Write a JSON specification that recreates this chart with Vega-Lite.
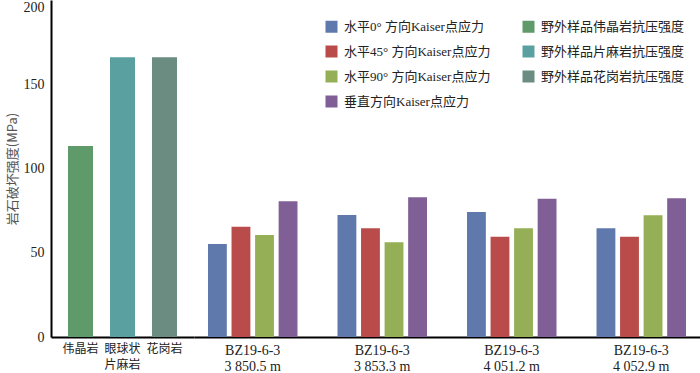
{
  "$schema": "https://vega.github.io/schema/vega-lite/v6.json",
  "padding": {"left": 6, "top": 0, "right": 0, "bottom": 0},
  "background": "white",
  "spacing": 0,
  "config": {
    "view": {"stroke": null},
    "font": "Liberation Serif, Noto Sans CJK SC",
    "concat": {"spacing": 0}
  },
  "datasets": {
    "d": [
      {"category": "伟晶岩", "series": "野外样品伟晶岩抗压强度", "kind": "field", "value": 113.4},
      {"category": "眼球状|片麻岩", "series": "野外样品片麻岩抗压强度", "kind": "field", "value": 166},
      {"category": "花岗岩", "series": "野外样品花岗岩抗压强度", "kind": "field", "value": 166},
      {"category": "BZ19-6-3|3 850.5 m", "series": "水平0° 方向Kaiser点应力", "kind": "kaiser", "value": 55.2},
      {"category": "BZ19-6-3|3 850.5 m", "series": "水平45° 方向Kaiser点应力", "kind": "kaiser", "value": 65.5},
      {"category": "BZ19-6-3|3 850.5 m", "series": "水平90° 方向Kaiser点应力", "kind": "kaiser", "value": 60.5},
      {"category": "BZ19-6-3|3 850.5 m", "series": "垂直方向Kaiser点应力", "kind": "kaiser", "value": 80.5},
      {"category": "BZ19-6-3|3 853.3 m", "series": "水平0° 方向Kaiser点应力", "kind": "kaiser", "value": 72.4},
      {"category": "BZ19-6-3|3 853.3 m", "series": "水平45° 方向Kaiser点应力", "kind": "kaiser", "value": 64.5},
      {"category": "BZ19-6-3|3 853.3 m", "series": "水平90° 方向Kaiser点应力", "kind": "kaiser", "value": 56.2},
      {"category": "BZ19-6-3|3 853.3 m", "series": "垂直方向Kaiser点应力", "kind": "kaiser", "value": 82.9},
      {"category": "BZ19-6-3|4 051.2 m", "series": "水平0° 方向Kaiser点应力", "kind": "kaiser", "value": 74.2},
      {"category": "BZ19-6-3|4 051.2 m", "series": "水平45° 方向Kaiser点应力", "kind": "kaiser", "value": 59.5},
      {"category": "BZ19-6-3|4 051.2 m", "series": "水平90° 方向Kaiser点应力", "kind": "kaiser", "value": 64.5},
      {"category": "BZ19-6-3|4 051.2 m", "series": "垂直方向Kaiser点应力", "kind": "kaiser", "value": 82.1},
      {"category": "BZ19-6-3|4 052.9 m", "series": "水平0° 方向Kaiser点应力", "kind": "kaiser", "value": 64.5},
      {"category": "BZ19-6-3|4 052.9 m", "series": "水平45° 方向Kaiser点应力", "kind": "kaiser", "value": 59.5},
      {"category": "BZ19-6-3|4 052.9 m", "series": "水平90° 方向Kaiser点应力", "kind": "kaiser", "value": 72.2},
      {"category": "BZ19-6-3|4 052.9 m", "series": "垂直方向Kaiser点应力", "kind": "kaiser", "value": 82.3}
    ]
  },
  "resolve": {"scale": {"color": "shared", "y": "independent", "x": "independent", "xOffset": "independent"}, "legend": {"color": "shared"}},
  "hconcat": [
    {
      "width": 143,
      "height": 337,
      "data": {"name": "d"},
      "transform": [{"filter": "datum.kind == 'field'"}],
      "mark": {"type": "bar"},
      "encoding": {
        "x": {
          "field": "category", "type": "nominal", "sort": null,
          "scale": {"paddingInner": 0.405, "paddingOuter": 0.405},
          "axis": {"title": null, "labelAngle": 0, "labelExpr": "split(datum.label, '|')", "ticks": false, "domainColor": "#000", "domainWidth": 2, "labelPadding": 6, "labelFontSize": 12, "labelLineHeight": 16, "labelColor": "#222", "labelFont": "Noto Sans CJK SC"}
        },
        "y": {
          "field": "value", "type": "quantitative",
          "scale": {"domain": [0, 200], "nice": false},
          "axis": {"title": "岩石破坏强度(MPa)", "values": [0, 50, 100, 150, 200], "ticks": false, "grid": false, "domainColor": "#000", "domainWidth": 2, "labelFontSize": 14, "labelPadding": 7, "labelColor": "#222", "titleFontSize": 13, "titleColor": "#555", "titleFont": "Noto Sans CJK SC", "titleFontWeight": "normal", "titlePadding": 4,
            "labelBaseline": {"condition": {"test": "datum.value == 200", "value": "top"}, "value": "middle"}}
        },
        "color": {
          "field": "series", "type": "nominal",
          "scale": {
            "domain": ["水平0° 方向Kaiser点应力", "水平45° 方向Kaiser点应力", "水平90° 方向Kaiser点应力", "垂直方向Kaiser点应力", "野外样品伟晶岩抗压强度", "野外样品片麻岩抗压强度", "野外样品花岗岩抗压强度"],
            "range": ["#6079ac", "#b94c4a", "#94af56", "#7f5f95", "#5e9a6a", "#5aa0a0", "#6b8c80"]
          },
          "legend": {"title": null, "orient": "none", "legendX": 274, "legendY": 20, "columns": 2, "columnPadding": 31, "rowPadding": 11, "symbolType": "square", "symbolSize": 144, "symbolStrokeWidth": 0, "labelFontSize": 13, "labelOffset": 6, "labelColor": "#222", "labelFont": "Liberation Serif, Noto Sans CJK SC", "padding": 0}
        }
      }
    },
    {
      "width": 506,
      "height": 337,
      "data": {"name": "d"},
      "transform": [{"filter": "datum.kind == 'kaiser'"}],
      "mark": {"type": "bar"},
      "encoding": {
        "x": {
          "field": "category", "type": "nominal", "sort": null,
          "scale": {"paddingInner": 0.309, "paddingOuter": 0.108},
          "axis": {"title": null, "labelAngle": 0, "labelExpr": "split(datum.label, '|')", "ticks": false, "domainColor": "#000", "domainWidth": 2, "labelPadding": 6, "labelFontSize": 14, "labelLineHeight": 16, "labelColor": "#222", "labelFont": "Liberation Serif"}
        },
        "xOffset": {
          "field": "series", "type": "nominal",
          "sort": ["水平0° 方向Kaiser点应力", "水平45° 方向Kaiser点应力", "水平90° 方向Kaiser点应力", "垂直方向Kaiser点应力"],
          "scale": {"paddingInner": 0.2, "paddingOuter": 0}
        },
        "y": {
          "field": "value", "type": "quantitative",
          "scale": {"domain": [0, 200], "nice": false},
          "axis": null
        },
        "color": {
          "field": "series", "type": "nominal",
          "scale": {
            "domain": ["水平0° 方向Kaiser点应力", "水平45° 方向Kaiser点应力", "水平90° 方向Kaiser点应力", "垂直方向Kaiser点应力", "野外样品伟晶岩抗压强度", "野外样品片麻岩抗压强度", "野外样品花岗岩抗压强度"],
            "range": ["#6079ac", "#b94c4a", "#94af56", "#7f5f95", "#5e9a6a", "#5aa0a0", "#6b8c80"]
          },
          "legend": {"title": null, "orient": "none", "legendX": 274, "legendY": 20, "columns": 2, "columnPadding": 31, "rowPadding": 11, "symbolType": "square", "symbolSize": 144, "symbolStrokeWidth": 0, "labelFontSize": 13, "labelOffset": 6, "labelColor": "#222", "labelFont": "Liberation Serif, Noto Sans CJK SC", "padding": 0}
        }
      }
    }
  ]
}
